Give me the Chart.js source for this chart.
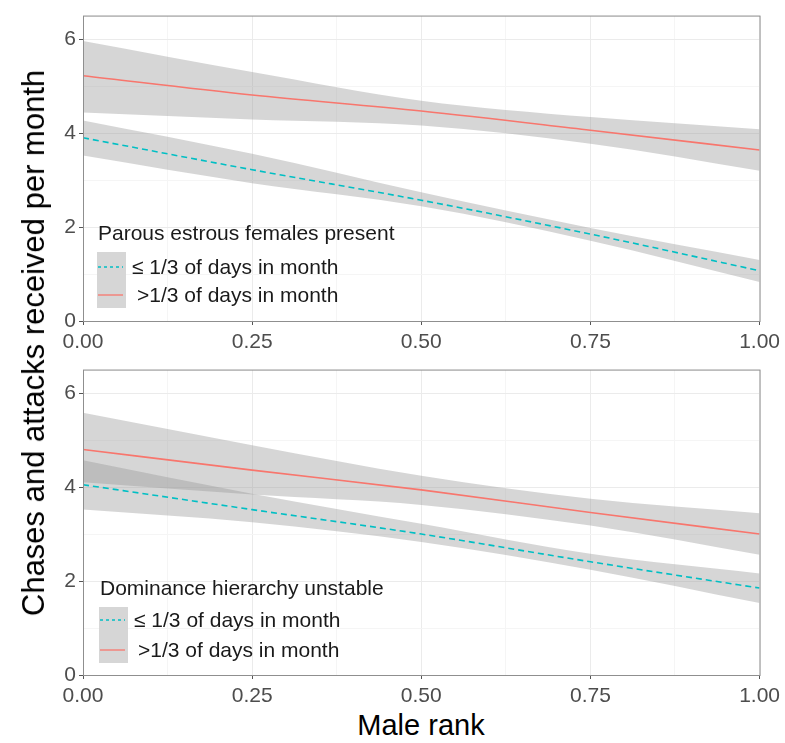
<!DOCTYPE html>
<html>
<head>
<meta charset="utf-8">
<script src="https://cdn.jsdelivr.net/npm/chart.js@4.4.0/dist/chart.umd.min.js"></script>
<style>
  body { margin: 0; background: #fff; font-family: "Liberation Sans", Arial, sans-serif; }
  #wrap { position: relative; width: 785px; height: 743px; }
  .panel { position: absolute; left: 0; width: 785px; height: 355px; }
  #yTitle { position: absolute; left: 34px; top: 343px; transform: translate(-50%, -50%) rotate(-90deg);
            white-space: nowrap; font-size: 31px; color: #000; }
  #xTitle { position: absolute; left: 421px; top: 709px; transform: translateX(-50%);
            white-space: nowrap; font-size: 29px; color: #000; }
  .legend { position: absolute; width: 29px; height: 56px; font-size: 21px; line-height: 24px; color: #1a1a1a; }
  .legend .key { position: absolute; left: 0; top: 0; width: 29px; height: 56px; background: #d6d6d6; }
  .legend .title { position: absolute; left: 1px; top: -31px; white-space: nowrap; }
  .legend .lab { position: absolute; white-space: nowrap; }
</style>
</head>
<body>
<div id="wrap">
  <div class="panel" style="top:0"><canvas id="topChart"></canvas></div>
  <div class="panel" style="top:354px"><canvas id="botChart"></canvas></div>
  <div id="yTitle">Chases and attacks received per month</div>
  <div id="xTitle">Male rank</div>

  <div class="legend" style="left:97px;top:252px">
    <div class="key"></div>
    <svg style="position:absolute;left:0;top:0" width="29" height="56">
      <line x1="1" y1="15" x2="26" y2="15" stroke="#00BFC4" stroke-width="1.3" stroke-dasharray="3 3"/>
      <line x1="1" y1="43" x2="26" y2="43" stroke="#F8766D" stroke-width="1.3"/>
    </svg>
    <div class="title">Parous estrous females present</div>
    <div class="lab" style="left:35px;top:3px">≤ 1/3 of days in month</div>
    <div class="lab" style="left:40px;top:31px">&gt;1/3 of days in month</div>
  </div>

  <div class="legend" style="left:99px;top:607px">
    <div class="key"></div>
    <svg style="position:absolute;left:0;top:0" width="29" height="56">
      <line x1="1" y1="13" x2="26" y2="13" stroke="#00BFC4" stroke-width="1.3" stroke-dasharray="3 3"/>
      <line x1="1" y1="43" x2="26" y2="43" stroke="#F8766D" stroke-width="1.3"/>
    </svg>
    <div class="title">Dominance hierarchy unstable</div>
    <div class="lab" style="left:35px;top:1px">≤ 1/3 of days in month</div>
    <div class="lab" style="left:39px;top:31px">&gt;1/3 of days in month</div>
  </div>
</div>

<script>
// male rank sample points
const rank = [0, 0.25, 0.5, 0.75, 1];

// top panel: parous estrous females present
const topLowLine  = [3.90, 3.22, 2.57, 1.85, 1.07];
const topLowUpper = [4.27, 3.56, 2.74, 1.98, 1.30];
const topLowLower = [3.52, 2.93, 2.44, 1.71, 0.83];
const topHighLine  = [5.22, 4.81, 4.47, 4.06, 3.64];
const topHighUpper = [5.96, 5.30, 4.69, 4.34, 4.08];
const topHighLower = [4.44, 4.29, 4.16, 3.77, 3.20];

// bottom panel: dominance hierarchy unstable
const botLowLine  = [4.05, 3.52, 3.00, 2.41, 1.85];
const botLowUpper = [4.57, 3.86, 3.22, 2.58, 2.16];
const botLowLower = [3.52, 3.25, 2.83, 2.24, 1.53];
const botHighLine  = [4.80, 4.36, 3.94, 3.46, 3.00];
const botHighUpper = [5.58, 4.89, 4.24, 3.75, 3.44];
const botHighLower = [4.10, 3.84, 3.62, 3.18, 2.56];

const xTicks = [0, 0.25, 0.5, 0.75, 1];
const yTicks = [0, 2, 4, 6];

const RED = '#F8766D';
const CYAN = '#00BFC4';
const BAND = 'rgba(153,153,153,0.4)';

function pts(ys) {
    return rank.map((x, i) => ({ x: x, y: ys[i] }));
}

// panel border on all four sides
const borderBox = {
    id: 'borderBox',
    afterDraw(chart) {
        const a = chart.chartArea;
        const c = chart.ctx;
        c.save();
        c.strokeStyle = '#8f8f8f';
        c.lineWidth = 1;
        c.strokeRect(a.left + 0.5, a.top + 0.5, a.right - a.left, a.bottom - a.top);
        c.restore();
    }
};

function isMajor(v, list) {
    return list.some(t => Math.abs(t - v) < 1e-6);
}

function makePanel(id, lowLine, lowUp, lowLo, highLine, highUp, highLo) {
    const band = (ys, fill) => ({
        data: pts(ys), borderWidth: 0, pointRadius: 0,
        backgroundColor: BAND, fill: fill, order: 2
    });
    const line = (ys, color, dash) => ({
        data: pts(ys), borderColor: color, borderWidth: 1.6, borderDash: dash,
        pointRadius: 0, fill: false, order: 1
    });
    return new Chart(document.getElementById(id), {
        type: 'line',
        data: {
            datasets: [
                band(lowUp, '+1'), band(lowLo, false),
                band(highUp, '+1'), band(highLo, false),
                line(lowLine, CYAN, [6, 4]),
                line(highLine, RED, [])
            ]
        },
        options: {
            responsive: true,
            maintainAspectRatio: false,
            animation: false,
            elements: { line: { cubicInterpolationMode: 'monotone' } },
            layout: { padding: { top: 11, right: 25, left: 0, bottom: 0 } },
            plugins: { legend: { display: false }, tooltip: { enabled: false } },
            scales: {
                x: {
                    type: 'linear', min: 0, max: 1,
                    border: { display: false },
                    afterFit: s => { s.height = 34; },
                    grid: {
                        color: c => isMajor(c.tick.value, xTicks) ? '#ebebeb' : '#f5f5f5',
                        tickColor: c => isMajor(c.tick.value, xTicks) ? '#555' : 'rgba(0,0,0,0)',
                        tickLength: 4
                    },
                    ticks: {
                        stepSize: 0.125, autoSkip: false, maxRotation: 0,
                        color: '#4d4d4d', font: { family: 'Liberation Sans', size: 21 }, padding: 5,
                        callback: v => isMajor(v, xTicks) ? v.toFixed(2) : ''
                    }
                },
                y: {
                    min: 0, max: 6.5,
                    border: { display: false },
                    afterFit: s => { s.width = 83; },
                    grid: {
                        color: c => isMajor(c.tick.value, yTicks) ? '#ebebeb' : '#f5f5f5',
                        tickColor: c => isMajor(c.tick.value, yTicks) ? '#555' : 'rgba(0,0,0,0)',
                        tickLength: 4
                    },
                    ticks: {
                        stepSize: 1, autoSkip: false,
                        color: '#4d4d4d', font: { family: 'Liberation Sans', size: 21 }, padding: 3,
                        callback: v => isMajor(v, yTicks) ? String(v) : ''
                    }
                }
            }
        },
        plugins: [borderBox]
    });
}

makePanel('topChart', topLowLine, topLowUpper, topLowLower, topHighLine, topHighUpper, topHighLower);
makePanel('botChart', botLowLine, botLowUpper, botLowLower, botHighLine, botHighUpper, botHighLower);
</script>
</body>
</html>
